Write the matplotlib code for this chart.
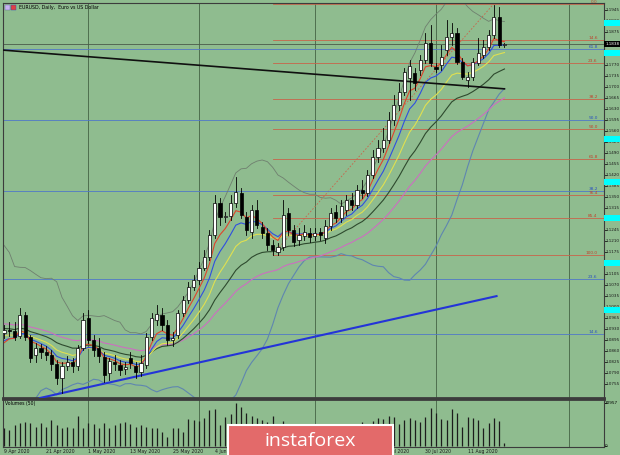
import matplotlib
matplotlib.use("Agg")
import matplotlib.pyplot as plt
import matplotlib.patches as patches
import pandas as pd

BG = "#8fbc8f"

# EURUSD daily bars, 9 Apr 2020 .. 20 Aug 2020
opens = [1.0919, 1.0928, 1.0925, 1.0910, 1.0976, 1.0906, 1.0849, 1.0871, 1.0858, 1.0849,
         1.0820, 1.0776, 1.0814, 1.0826, 1.0814, 1.0871, 1.0966, 1.0896, 1.0871, 1.0842,
         1.0792, 1.0826, 1.0817, 1.0804, 1.0839, 1.0814, 1.0795, 1.0817, 1.0906, 1.0960,
         1.0976, 1.0944, 1.0896, 1.0912, 1.0982, 1.1024, 1.1065, 1.1087, 1.1125, 1.1160,
         1.1230, 1.1332, 1.1287, 1.1290, 1.1332, 1.1364, 1.1287, 1.1240, 1.1310, 1.1255,
         1.1236, 1.1198, 1.1176, 1.1192, 1.1300, 1.1246, 1.1214, 1.1227, 1.1236, 1.1227,
         1.1240, 1.1221, 1.1259, 1.1303, 1.1284, 1.1310, 1.1342, 1.1326, 1.1373, 1.1364,
         1.1421, 1.1478, 1.1507, 1.1532, 1.1596, 1.1644, 1.1685, 1.1730, 1.1746, 1.1755,
         1.1787, 1.1841, 1.1765, 1.1771, 1.1819, 1.1860, 1.1873, 1.1781, 1.1723, 1.1733,
         1.1777, 1.1803, 1.1828, 1.1866, 1.1923, 1.1835]
highs = [1.0944, 1.0954, 1.0954, 1.0998, 1.0985, 1.0912, 1.0887, 1.0884, 1.0877, 1.0865,
         1.0833, 1.0826, 1.0846, 1.0839, 1.0880, 1.0982, 1.0992, 1.0912, 1.0903, 1.0858,
         1.0839, 1.0849, 1.0833, 1.0826, 1.0858, 1.0826, 1.0849, 1.0919, 1.0982, 1.1008,
         1.0998, 1.0960, 1.0922, 1.0992, 1.1037, 1.1081, 1.1103, 1.1145, 1.1183, 1.1246,
         1.1357, 1.1348, 1.1303, 1.1357, 1.1415, 1.1380, 1.1303, 1.1326, 1.1342, 1.1272,
         1.1252, 1.1214, 1.1205, 1.1342, 1.1316, 1.1262, 1.1252, 1.1262, 1.1252, 1.1252,
         1.1252, 1.1278, 1.1316, 1.1326, 1.1342, 1.1357, 1.1364, 1.1389, 1.1405, 1.1437,
         1.1501, 1.1532, 1.1571, 1.1621, 1.1676, 1.1714, 1.1762, 1.1787, 1.1762, 1.1803,
         1.1873, 1.1898, 1.1777, 1.1835, 1.1914, 1.1904, 1.1888, 1.1793, 1.1749, 1.1793,
         1.1857, 1.1850, 1.1882, 1.1962, 1.1955, 1.1841]
lows = [1.0903, 1.0909, 1.0896, 1.0903, 1.0896, 1.0826, 1.0826, 1.0839, 1.0833, 1.0801,
        1.0757, 1.0728, 1.0801, 1.0795, 1.0801, 1.0865, 1.0887, 1.0846, 1.0826, 1.0763,
        1.0769, 1.0801, 1.0785, 1.0788, 1.0807, 1.0776, 1.0782, 1.0807, 1.0896, 1.0944,
        1.0928, 1.0880, 1.0877, 1.0903, 1.0973, 1.1014, 1.1056, 1.1075, 1.1119, 1.1151,
        1.1221, 1.1262, 1.1272, 1.1278, 1.1319, 1.1284, 1.1230, 1.1221, 1.1252, 1.1221,
        1.1183, 1.1167, 1.1167, 1.1183, 1.1230, 1.1195, 1.1198, 1.1214, 1.1208, 1.1214,
        1.1214, 1.1205, 1.1246, 1.1272, 1.1272, 1.1294, 1.1310, 1.1316, 1.1348, 1.1354,
        1.1412, 1.1462, 1.1494, 1.1523, 1.1580, 1.1628, 1.1676, 1.1660, 1.1691, 1.1739,
        1.1777, 1.1768, 1.1749, 1.1755, 1.1803, 1.1835, 1.1774, 1.1727, 1.1701, 1.1723,
        1.1771, 1.1793, 1.1819, 1.1857, 1.1828, 1.1828]
closes = [1.0928, 1.0925, 1.0906, 1.0976, 1.0906, 1.0839, 1.0871, 1.0858, 1.0849, 1.0820,
          1.0776, 1.0814, 1.0826, 1.0814, 1.0871, 1.0960, 1.0896, 1.0865, 1.0846, 1.0785,
          1.0830, 1.0820, 1.0801, 1.0811, 1.0823, 1.0795, 1.0823, 1.0906, 1.0966, 1.0979,
          1.0944, 1.0896, 1.0903, 1.0982, 1.1024, 1.1065, 1.1087, 1.1125, 1.1160, 1.1230,
          1.1332, 1.1287, 1.1290, 1.1332, 1.1367, 1.1294, 1.1246, 1.1310, 1.1262, 1.1236,
          1.1198, 1.1183, 1.1192, 1.1294, 1.1246, 1.1208, 1.1230, 1.1240, 1.1224, 1.1236,
          1.1230, 1.1259, 1.1300, 1.1284, 1.1323, 1.1342, 1.1326, 1.1373, 1.1364, 1.1421,
          1.1478, 1.1507, 1.1532, 1.1596, 1.1644, 1.1685, 1.1749, 1.1768, 1.1714, 1.1787,
          1.1841, 1.1777, 1.1758, 1.1796, 1.1860, 1.1873, 1.1781, 1.1733, 1.1733, 1.1781,
          1.1809, 1.1828, 1.1866, 1.1923, 1.1835, 1.1838]
volumes = [8600, 7800, 10200, 11000, 11800, 11000, 9400, 11000, 9400, 12700,
           10200, 8600, 9400, 8600, 14800, 8600, 11000, 10600, 8600, 11000,
           8600, 10200, 11000, 11500, 10600, 9400, 10200, 9400, 8900, 8900,
           7000, 4500, 8600, 8600, 7000, 13100, 12700, 12200, 13500, 17500,
           18000, 10200, 14300, 15400, 20800, 19100, 16100, 14600, 13600, 12700,
           11700, 14600, 10700, 12200, 9700, 8800, 9300, 7800, 8800, 6800,
           8300, 7300, 5800, 7800, 8800, 7300, 10700, 9700, 11700, 10700,
           12200, 13600, 13100, 14600, 14300, 10600, 12700, 13500, 12700, 11500,
           14300, 18400, 15900, 13100, 12700, 18000, 15900, 9400, 14300, 13500,
           12700, 8600, 11000, 13500, 12200, 1300]
# closes before the first visible bar, only used to warm up the averages
prior_close = [1.0910, 1.0915, 1.0875, 1.0840, 1.0830, 1.0835, 1.0790, 1.0805, 1.0780, 1.0845,
               1.0850, 1.0880, 1.0880, 1.0995, 1.1025, 1.1135, 1.1175, 1.1135, 1.1240, 1.1285,
               1.1450, 1.1285, 1.1270, 1.1175, 1.1105, 1.1180, 1.0995, 1.0915, 1.0690, 1.0695,
               1.0720, 1.0795, 1.0885, 1.1030, 1.1140, 1.1045, 1.1030, 1.0965, 1.0855, 1.0805,
               1.0795, 1.0890, 1.0855]

date_labels = ["9 Apr 2020", "21 Apr 2020", "1 May 2020", "13 May 2020", "25 May 2020",
               "4 Jun 2020", "16 Jun 2020", "26 Jun 2020", "8 Jul 2020", "20 Jul 2020",
               "30 Jul 2020", "11 Aug 2020"]
date_bars = [0, 8, 16, 24, 32, 40, 48, 56, 64, 72, 80, 88]

price_ticks = [1.0755 + 0.0035 * k for k in range(35)]
bid = 1.1838
cyan_levels = [1.1904, 1.1809, 1.1536, 1.1399, 1.1284, 1.1141, 1.0992]

# fibonacci grids
red_fib_low, red_fib_high = 1.1168, 1.1966
red_fib_bars = (51, 93)
red_fib_levels = [0.0, 14.6, 23.6, 38.2, 50.0, 61.8, 76.4, 85.4, 100.0]
blue_fib_low, blue_fib_high = 1.0636, 1.2555
blue_fib_levels = [14.6, 23.6, 38.2, 50.0, 61.8]

# trend lines (bar, price)
black_line = [(-0.8, 1.1819), (95.0, 1.1695)]
blue_line = [(6.8, 1.0712), (93.5, 1.1036)]

W, H = 620, 455
fig = plt.figure(figsize=(W / 100, H / 100), dpi=100, facecolor=BG)
ax = fig.add_axes([3 / W, 1 - 398 / H, 601 / W, 395 / H])
axv = fig.add_axes([3 / W, 1 - 447 / H, 601 / W, 48 / H], sharex=ax)
for a in (ax, axv):
    a.set_facecolor(BG)
    for s in a.spines.values():
        s.set_color("#3c3c3c")
        s.set_linewidth(0.8)
    a.tick_params(left=False, bottom=False, labelleft=False, labelbottom=False,
                  right=True, labelright=False, direction="out", length=2, width=0.5)
ax.spines["bottom"].set_linewidth(2)
axv.spines["top"].set_linewidth(2)

ax.set_xlim(-0.2, 113.9)
ax.set_ylim(1.0712, 1.1968)
ax.set_yticks(price_ticks)
axv.set_ylim(-490, 22900)
axv.set_yticks([0, 20957])

n = len(closes)
idx = list(range(n))

# vertical separators
for xb in [16, 37, 59, 82, 107.2]:
    ax.axvline(xb, color="#4f6f4f", lw=0.7, zorder=1)
    axv.axvline(xb, color="#4f6f4f", lw=0.7, zorder=1)

# indicators
allc = pd.Series(prior_close + closes)
k0 = len(prior_close)
def ema(p):
    return allc.ewm(span=p, adjust=False).mean().values[k0:]
mid = allc.rolling(20).mean()
sd = allc.rolling(20).std(ddof=0)
upper = (mid + 2 * sd).values[k0:]
lower = (mid - 2 * sd).values[k0:]
ax.plot(idx, upper, color="#6f7f6f", lw=0.6, zorder=2)
ax.plot(idx, lower, color="#5f86b0", lw=0.8, zorder=2)
ax.plot(idx, ema(34), color="#cc6fc0", lw=0.8, zorder=2)
ax.plot(idx, ema(21), color="#2e4a2e", lw=0.8, zorder=2)
ax.plot(idx, ema(13), color="#e0e050", lw=0.8, zorder=2)
ax.plot(idx, ema(8), color="#2f4fe0", lw=0.8, zorder=2)
ax.plot(idx, ema(5), color="#e0442c", lw=0.8, zorder=2)

# fib grids
rng = red_fib_high - red_fib_low
for lv in red_fib_levels:
    p = red_fib_high - rng * lv / 100
    ax.plot([red_fib_bars[0], 113.9], [p, p], color="#c8644a", lw=0.6, zorder=1.5)
    ax.text(112.7, p, "%.1f" % lv, color="#c0402a", fontsize=3.1, ha="right", va="bottom")
ax.plot(red_fib_bars, [red_fib_low, red_fib_high], color="#c8644a", lw=0.6, ls=(0, (2, 2)),
        zorder=1.5)
brng = blue_fib_high - blue_fib_low
for lv in blue_fib_levels:
    p = blue_fib_low + brng * lv / 100
    ax.axhline(p, color="#5078c8", lw=0.6, zorder=1.5)
    ax.text(112.7, p, "%.1f" % lv, color="#2a50c0", fontsize=3.1, ha="right", va="bottom")

ax.axhline(bid, color="#4a5a4a", lw=0.6, zorder=1.5)

(x0, y0), (x1, y1) = black_line
ax.plot([x0, x1], [y0, y1], color="#101010", lw=1.2, zorder=3)
(x0, y0), (x1, y1) = blue_line
ax.plot([x0, x1], [y0, y1], color="#2434d8", lw=1.5, zorder=3)

# candles
for i in idx:
    o, h, l, c = opens[i], highs[i], lows[i], closes[i]
    ax.plot([i, i], [l, h], color="black", lw=0.6, zorder=4)
    fc = "white" if c >= o else "black"
    ax.add_patch(patches.Rectangle((i - 0.3, min(o, c)), 0.6, max(abs(c - o), 0.00025),
                                   facecolor=fc, edgecolor="black", lw=0.5, zorder=5))

# volume
axv.vlines(idx, 0, volumes, color="#1c1c1c", lw=0.9)

# right price scale
ytr = ax.get_yaxis_transform()
for t in price_ticks:
    ax.text(1.002, t, "%.4f" % t, transform=ytr, fontsize=3.0,
            va="center", ha="left", clip_on=False, color="#1a1a1a")
for lvl in cyan_levels:
    ax.add_patch(patches.Rectangle((1.0, lvl - 0.0009), 0.03, 0.0018, transform=ytr,
                                   clip_on=False, facecolor="#00ffff", edgecolor="none", zorder=6))
ax.add_patch(patches.Rectangle((1.0, bid - 0.0009), 0.03, 0.0018, transform=ytr,
                               clip_on=False, facecolor="black", edgecolor="none", zorder=6))
ax.text(1.002, bid, "%.4f" % bid, transform=ytr, fontsize=3.0,
        va="center", ha="left", clip_on=False, color="white", zorder=7)
vtr = axv.get_yaxis_transform()
axv.text(1.002, 20957, "20957", transform=vtr, fontsize=3.0, va="center", ha="left", clip_on=False)
axv.text(1.002, 0, "0", transform=vtr, fontsize=3.0, va="center", ha="left", clip_on=False)
axv.text(0.004, 0.9, "Volumes (50)", transform=axv.transAxes, fontsize=3.3, va="center")

# dates
for b, lab in zip(date_bars, date_labels):
    fig.text((3 + (b + 0.2) / 114.1 * 601) / W, 1 - 451 / H, lab, fontsize=3.3,
             va="center", ha="left", color="#1a1a1a")

# title
fig.patches.append(patches.Rectangle((5 / W, 1 - 10 / H), 5 / W, 5 / H, transform=fig.transFigure,
                                     facecolor="#c8b4f0", edgecolor="#6060a0", lw=0.3))
fig.patches.append(patches.Rectangle((11 / W, 1 - 10 / H), 5 / W, 5 / H, transform=fig.transFigure,
                                     facecolor="#e04040", edgecolor="#3040c0", lw=0.3))
fig.text(19 / W, 1 - 7.5 / H, "EURUSD, Daily,  Euro vs US Dollar", fontsize=3.4, va="center")

# watermark
fig.patches.append(patches.Rectangle((228 / W, -0.02), 165 / W, (30 / H) + 0.02,
                                     transform=fig.transFigure, facecolor="#e36a6a",
                                     edgecolor="white", lw=1.5, zorder=10))
fig.text(310 / W, 1 - 441 / H, "instaforex", color="white", fontsize=14, ha="center",
         va="center", zorder=11, family="Open Sans")

fig.savefig("out.png", dpi=100, facecolor=BG)
